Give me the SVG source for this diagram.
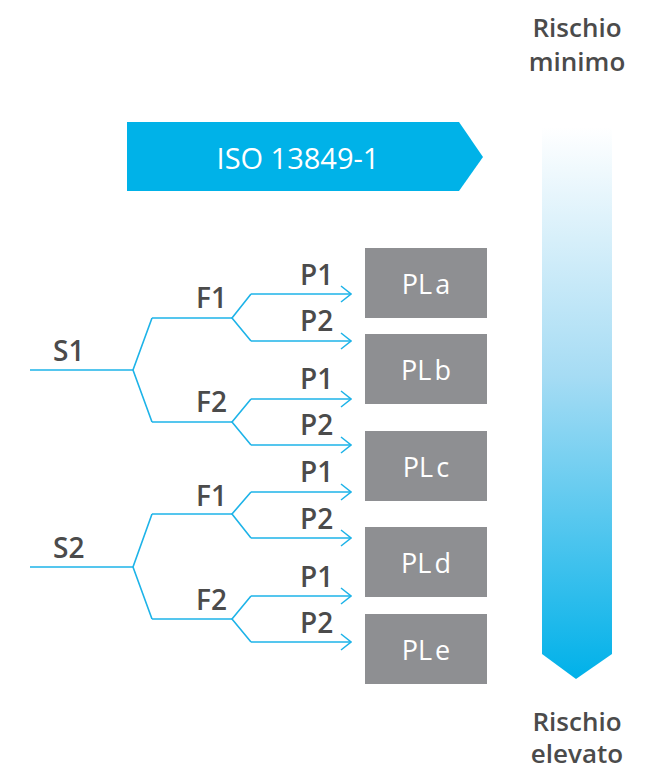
<svg xmlns="http://www.w3.org/2000/svg" width="655" height="770" viewBox="0 0 655 770">
  <defs>
    <linearGradient id="riskGrad" x1="0" y1="127" x2="0" y2="679" gradientUnits="userSpaceOnUse">
      <stop offset="0" stop-color="#ffffff"/>
      <stop offset="0.45" stop-color="#a6dcf4"/>
      <stop offset="1" stop-color="#00b1e9"/>
    </linearGradient>
    <marker id="chev" viewBox="0 0 12 18" refX="11" refY="9" markerWidth="12" markerHeight="18" markerUnits="userSpaceOnUse" orient="auto">
      <polyline points="1,1 11,9 1,17" fill="none" stroke="#1db3e8" stroke-width="1.5"/>
    </marker>
    <style>
      .lbl { font-family: "Open Sans", "Liberation Sans", sans-serif; font-size: 28px; font-weight: 600; fill: #4b4b4b; }
      .risk { font-family: "Open Sans", "Liberation Sans", sans-serif; font-size: 26px; font-weight: 600; fill: #4b4b4b; text-anchor: middle; }
      .box { fill: #8e8f92; }
      .boxtxt { font-family: "Open Sans", "Liberation Sans", sans-serif; font-size: 27px; font-weight: 500; fill: #ffffff; text-anchor: middle; word-spacing: -4px; }
      .wire { fill: none; stroke: #1db3e8; stroke-width: 1.6; stroke-linejoin: miter; }
      .arr { fill: none; stroke: #1db3e8; stroke-width: 1.6; marker-end: url(#chev); }
    </style>
  </defs>

  <!-- standard banner -->
  <g id="iso-banner">
    <polygon points="127,122 459,122 483,157 459,191 127,191" fill="#00b2e8"/>
    <text x="298" y="169" font-family="'Open Sans','Liberation Sans',sans-serif" font-size="29" font-weight="500" fill="#ffffff" text-anchor="middle">ISO 13849-1</text>
  </g>

  <!-- risk scale -->
  <g id="risk-scale">
    <polygon points="542,127 612,127 612,654 576,679 542,654" fill="url(#riskGrad)"/>
    <text class="risk" x="577" y="37">Rischio</text>
    <text class="risk" x="577" y="71">minimo</text>
    <text class="risk" x="577" y="731">Rischio</text>
    <text class="risk" x="577" y="763">elevato</text>
  </g>

  <!-- performance level boxes -->
  <g id="pl-a"><rect class="box" x="365" y="248" width="122" height="70"/><text class="boxtxt" x="426" y="294">PL a</text></g>
  <g id="pl-b"><rect class="box" x="365" y="334" width="122" height="70"/><text class="boxtxt" x="426" y="380">PL b</text></g>
  <g id="pl-c"><rect class="box" x="365" y="431" width="122" height="70"/><text class="boxtxt" x="426" y="477">PL c</text></g>
  <g id="pl-d"><rect class="box" x="365" y="527" width="122" height="70"/><text class="boxtxt" x="426" y="573">PL d</text></g>
  <g id="pl-e"><rect class="box" x="365" y="614" width="122" height="70"/><text class="boxtxt" x="426" y="660">PL e</text></g>

  <!-- decision tree connectors -->
  <g id="connectors">
    <!-- S1 branch -->
    <polyline class="wire" points="30,370 133,370"/>
    <polyline class="wire" points="152,318 133,370 152,422"/>
    <polyline class="wire" points="152,318 232,318"/>
    <polyline class="wire" points="152,422 232,422"/>
    <polyline class="wire" points="251,294 232,318 251,341"/>
    <polyline class="wire" points="251,399 232,422 251,445"/>
    <line class="arr" x1="251" y1="294" x2="351" y2="294"/>
    <line class="arr" x1="251" y1="341" x2="351" y2="341"/>
    <line class="arr" x1="251" y1="399" x2="351" y2="399"/>
    <line class="arr" x1="251" y1="445" x2="351" y2="445"/>
    <!-- S2 branch -->
    <polyline class="wire" points="30,567 133,567"/>
    <polyline class="wire" points="152,514 133,567 152,619"/>
    <polyline class="wire" points="152,514 232,514"/>
    <polyline class="wire" points="152,619 232,619"/>
    <polyline class="wire" points="251,492 232,514 251,538"/>
    <polyline class="wire" points="251,596 232,619 251,642"/>
    <line class="arr" x1="251" y1="492" x2="351" y2="492"/>
    <line class="arr" x1="251" y1="538" x2="351" y2="538"/>
    <line class="arr" x1="251" y1="596" x2="351" y2="596"/>
    <line class="arr" x1="251" y1="642" x2="351" y2="642"/>
  </g>

  <!-- tree labels -->
  <g id="labels-s1">
    <text class="lbl" x="53" y="361">S1</text>
    <text class="lbl" x="196" y="308">F1</text>
    <text class="lbl" x="196" y="412">F2</text>
    <text class="lbl" x="300" y="285">P1</text>
    <text class="lbl" x="300" y="331">P2</text>
    <text class="lbl" x="300" y="389">P1</text>
    <text class="lbl" x="300" y="435">P2</text>
  </g>
  <g id="labels-s2">
    <text class="lbl" x="53" y="558">S2</text>
    <text class="lbl" x="196" y="506">F1</text>
    <text class="lbl" x="196" y="610">F2</text>
    <text class="lbl" x="300" y="482">P1</text>
    <text class="lbl" x="300" y="529">P2</text>
    <text class="lbl" x="300" y="587">P1</text>
    <text class="lbl" x="300" y="633">P2</text>
  </g>
</svg>
